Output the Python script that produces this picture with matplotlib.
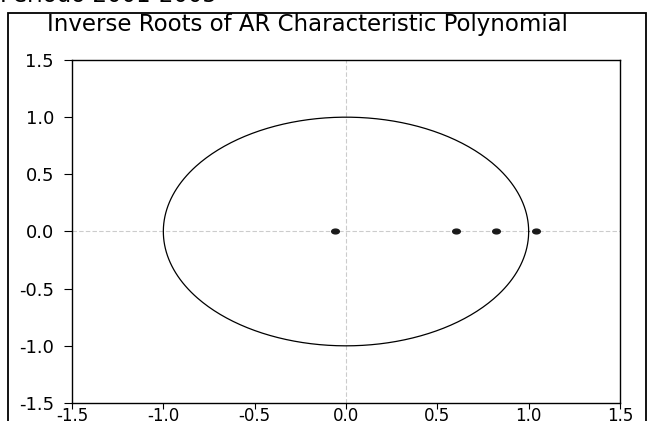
import numpy as np
import matplotlib.pyplot as plt
from matplotlib.patches import Rectangle
from matplotlib.path import Path
from matplotlib.transforms import Affine2D

plt.rcParams['font.family'] = ['DejaVu Sans']

root_re = [-0.06, 0.60, 0.82, 1.04]
root_im = [0.0, 0.0, 0.0, 0.0]

ticks = [-1.5, -1.0, -0.5, 0.0, 0.5, 1.0, 1.5]
tick_labels = ['-1.5', '-1.0', '-0.5', '0.0', '0.5', '1.0', '1.5']

W, H = 648, 421
fig = plt.figure(figsize=(W / 100, H / 100), dpi=100)

# axes box in pixels: left 72, right 620, top 60, bottom 403
ax = fig.add_axes([72 / W, 1 - 403 / H, (620 - 72) / W, (403 - 60) / H])

theta = np.linspace(0, 2 * np.pi, 400)
ax.plot(np.cos(theta), np.sin(theta), color='black', lw=0.9)
ax.axhline(0, color='#cccccc', lw=0.8, ls=(0, (4, 2)), zorder=0)
ax.axvline(0, color='#cccccc', lw=0.8, ls=(0, (4, 2)), zorder=0)

# the dots are flattened, like the whole chart
dot = Path.unit_circle().transformed(Affine2D().scale(1.6, 1.0))
ax.plot(root_re, root_im, ls='none', marker=dot, ms=5.5, color='#1a1a1a', zorder=3)

ax.set_xlim(-1.5, 1.5)
ax.set_ylim(-1.5, 1.5)
ax.set_xticks(ticks)
ax.set_xticklabels(tick_labels)
ax.set_yticks(ticks)
ax.set_yticklabels(tick_labels)
ax.tick_params(direction='out', width=0.8)
ax.tick_params(axis='y', length=6, pad=7, labelsize=13)
ax.tick_params(axis='x', length=4, pad=-1, labelsize=12)
for s in ax.spines.values():
    s.set_linewidth(1.0)

# outer frame and titles
fig.patches.append(Rectangle((8 / W, -0.1), (646 - 8) / W, 1 - 13 / H + 0.1,
                             transform=fig.transFigure, fill=False,
                             edgecolor='black', lw=1.3))
fig.text(47 / W, 1 - 24 / H, 'Inverse Roots of AR Characteristic Polynomial',
         fontsize=16.5, va='center', ha='left')
# only the lower edge of this heading shows in the reference
fig.text(0, 1 - 2 / H, 'Periodo 2001-2005', fontsize=16.5, va='baseline', ha='left')

fig.savefig('out.png', dpi=100)
